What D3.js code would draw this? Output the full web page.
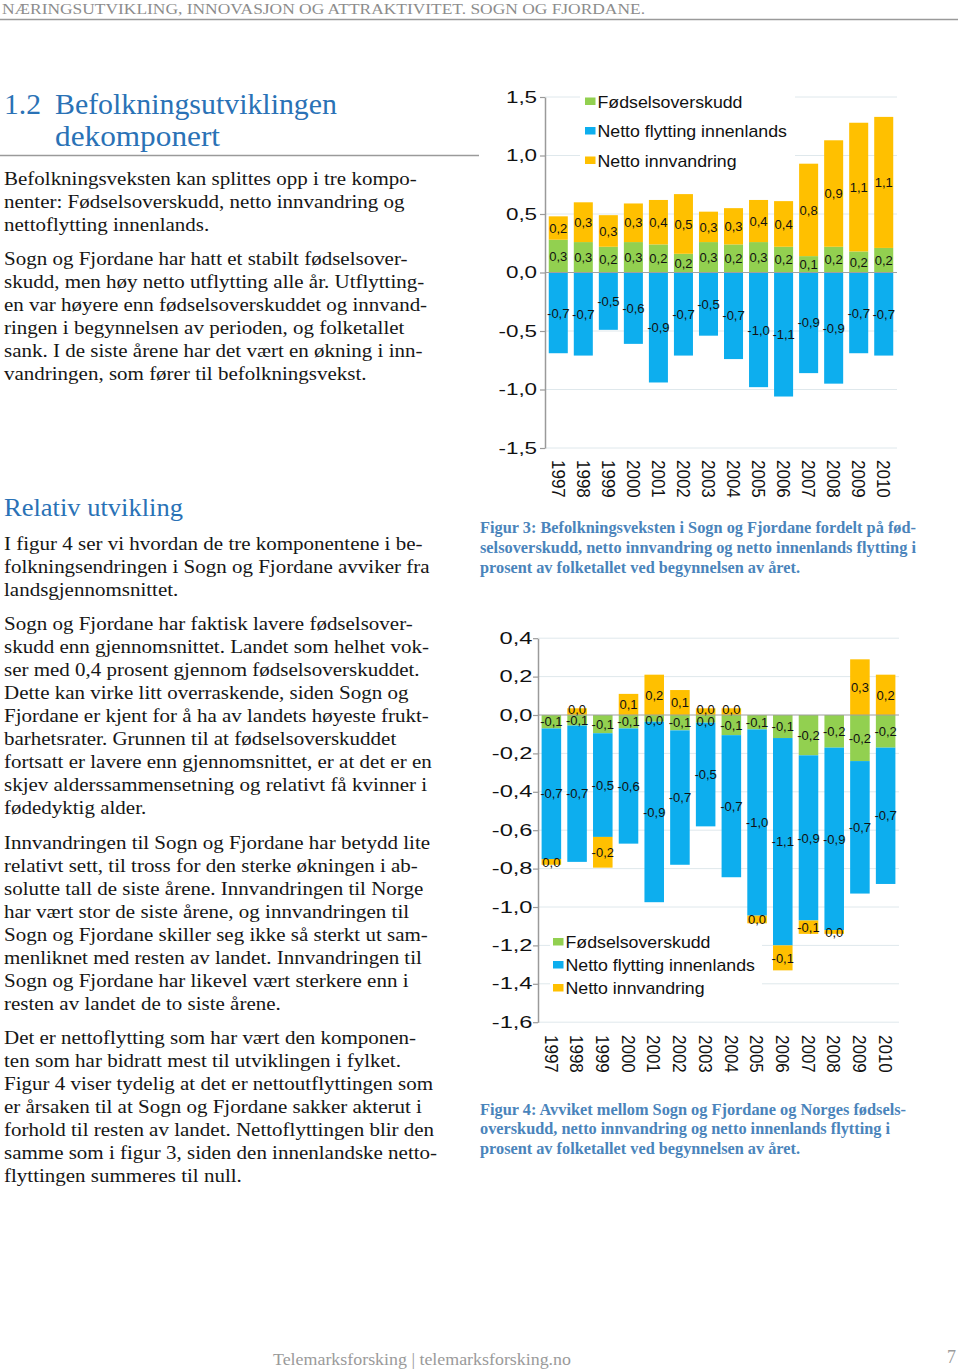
<!DOCTYPE html>
<html>
<head>
<meta charset="utf-8">
<script src="https://cdn.jsdelivr.net/npm/d3@7"></script>
<style>
  html, body { margin: 0; padding: 0; background: #fff; }
  svg { display: block; }
</style>
</head>
<body>
<svg id="page" width="960" height="1369"></svg>
<script>
// ---------------- DATA ----------------
const years = ["1997","1998","1999","2000","2001","2002","2003","2004","2005","2006","2007","2008","2009","2010"];
const seriesNames = ["Fødselsoverskudd", "Netto flytting innenlands", "Netto innvandring"];
const seriesColors = ["#92D050", "#0DAEEE", "#FFC000"];

// Figur 3 (prosent av folketallet)
const fig3Fodsel      = [0.28, 0.26, 0.22, 0.26, 0.24, 0.16, 0.26, 0.24, 0.26, 0.22, 0.14, 0.22, 0.18, 0.21];
const fig3Flytting    = [-0.69, -0.71, -0.49, -0.61, -0.94, -0.71, -0.54, -0.74, -0.98, -1.06, -0.86, -0.95, -0.69, -0.71];
const fig3Innvandring = [0.20, 0.34, 0.27, 0.33, 0.38, 0.51, 0.26, 0.31, 0.36, 0.39, 0.79, 0.91, 1.10, 1.12];
const fig3Ticks = [-1.5, -1.0, -0.5, 0.0, 0.5, 1.0, 1.5];

// Figur 4 (avvik fra landet)
const fig4Fodsel      = [-0.07, -0.055, -0.095, -0.07, -0.035, -0.08, -0.04, -0.105, -0.075, -0.12, -0.21, -0.17, -0.24, -0.17];
const fig4Flytting    = [-0.68, -0.71, -0.54, -0.60, -0.94, -0.70, -0.54, -0.74, -0.97, -1.08, -0.86, -0.95, -0.69, -0.71];
const fig4Innvandring = [-0.03, 0.035, -0.16, 0.11, 0.21, 0.13, 0.035, 0.035, -0.04, -0.13, -0.07, -0.02, 0.29, 0.21];
const fig4Ticks = [-1.6, -1.4, -1.2, -1.0, -0.8, -0.6, -0.4, -0.2, 0.0, 0.2, 0.4];

// ---------------- TEXT ----------------
const headerText = "NÆRINGSUTVIKLING, INNOVASJON OG ATTRAKTIVITET. SOGN OG FJORDANE.";
const para1 = ["Befolkningsveksten kan splittes opp i tre kompo-",
  "nenter: Fødselsoverskudd, netto innvandring og",
  "nettoflytting innenlands."];
const para2 = ["Sogn og Fjordane har hatt et stabilt fødselsover-",
  "skudd, men høy netto utflytting alle år. Utflytting-",
  "en var høyere enn fødselsoverskuddet og innvand-",
  "ringen i begynnelsen av perioden, og folketallet",
  "sank. I de siste årene har det vært en økning i inn-",
  "vandringen, som fører til befolkningsvekst."];
const para3 = ["I figur 4 ser vi hvordan de tre komponentene i be-",
  "folkningsendringen i Sogn og Fjordane avviker fra",
  "landsgjennomsnittet."];
const para4 = ["Sogn og Fjordane har faktisk lavere fødselsover-",
  "skudd enn gjennomsnittet. Landet som helhet vok-",
  "ser med 0,4 prosent gjennom fødselsoverskuddet.",
  "Dette kan virke litt overraskende, siden Sogn og",
  "Fjordane er kjent for å ha av landets høyeste frukt-",
  "barhetsrater. Grunnen til at fødselsoverskuddet",
  "fortsatt er lavere enn gjennomsnittet, er at det er en",
  "skjev alderssammensetning og relativt få kvinner i",
  "fødedyktig alder."];
const para5 = ["Innvandringen til Sogn og Fjordane har betydd lite",
  "relativt sett, til tross for den sterke økningen i ab-",
  "solutte tall de siste årene. Innvandringen til Norge",
  "har vært stor de siste årene, og innvandringen til",
  "Sogn og Fjordane skiller seg ikke så sterkt ut sam-",
  "menliknet med resten av landet. Innvandringen til",
  "Sogn og Fjordane har likevel vært sterkere enn i",
  "resten av landet de to siste årene."];
const para6 = ["Det er nettoflytting som har vært den komponen-",
  "ten som har bidratt mest til utviklingen i fylket.",
  "Figur 4 viser tydelig at det er nettoutflyttingen som",
  "er årsaken til at Sogn og Fjordane sakker akterut i",
  "forhold til resten av landet. Nettoflyttingen blir den",
  "samme som i figur 3, siden den innenlandske netto-",
  "flyttingen summeres til null."];
const caption3 = ["Figur 3: Befolkningsveksten i Sogn og Fjordane fordelt på fød-",
  "selsoverskudd, netto innvandring og netto innenlands flytting i",
  "prosent av folketallet ved begynnelsen av året."];
const caption4 = ["Figur 4: Avviket mellom Sogn og Fjordane og Norges fødsels-",
  "overskudd, netto innvandring og netto innenlands flytting i",
  "prosent av folketallet ved begynnelsen av året."];

// ---------------- SETUP ----------------
const svg = d3.select("#page");
svg.append("rect").attr("width", 960).attr("height", 1369).attr("fill", "#fff");

const locale = d3.formatLocale({decimal: ",", thousands: " ", grouping: [3], currency: ["", ""], minus: "-"});
const f1 = locale.format(".1f");
function lbl(v) { const r = Math.round(v * 10) / 10; return r === 0 ? "0,0" : f1(r); }

const SERIF = "'Liberation Serif', 'Times New Roman', serif";
const SANS = "'Liberation Sans', Arial, Helvetica, sans-serif";

// ---------------- PAGE TEXT ----------------
svg.append("text").attr("x", 2).attr("y", 13.5)
  .attr("font-family", SERIF).attr("font-size", 15.5).attr("fill", "#8c8c8c")
  .attr("textLength", 643).attr("lengthAdjust", "spacingAndGlyphs")
  .text(headerText);
svg.append("line").attr("x1", 0).attr("x2", 958).attr("y1", 19.5).attr("y2", 19.5)
  .attr("stroke", "#9a9a9a").attr("stroke-width", 1.5);

const titleBlue = "#2a72b6";
svg.append("text").attr("x", 4).attr("y", 114).attr("font-family", SERIF).attr("font-size", 30)
  .attr("fill", titleBlue).attr("textLength", 37).attr("lengthAdjust", "spacingAndGlyphs").text("1.2");
svg.append("text").attr("x", 55).attr("y", 114).attr("font-family", SERIF).attr("font-size", 30)
  .attr("fill", titleBlue).attr("textLength", 282).attr("lengthAdjust", "spacingAndGlyphs").text("Befolkningsutviklingen");
svg.append("text").attr("x", 55).attr("y", 146).attr("font-family", SERIF).attr("font-size", 30)
  .attr("fill", titleBlue).attr("textLength", 165).attr("lengthAdjust", "spacingAndGlyphs").text("dekomponert");
svg.append("line").attr("x1", 0).attr("x2", 479).attr("y1", 155.5).attr("y2", 155.5)
  .attr("stroke", "#9a9a9a").attr("stroke-width", 1.5);

svg.append("text").attr("x", 4).attr("y", 516).attr("font-family", SERIF).attr("font-size", 26)
  .attr("fill", titleBlue).attr("textLength", 179).attr("lengthAdjust", "spacingAndGlyphs").text("Relativ utvikling");

const body = svg.append("g").attr("font-family", SERIF).attr("font-size", 19.5).attr("fill", "#161616");
const blocks = [[para1, 185], [para2, 265], [para3, 550], [para4, 630], [para5, 849], [para6, 1044]];
blocks.forEach(([lines, y0]) => {
  lines.forEach((t, i) => body.append("text").attr("x", 0).attr("y", y0 + i * 23).text(t));
});
const refNode = body.select("text").node();
const natW = refNode.getComputedTextLength();
const sxBody = natW > 0 ? 413 / natW : 1;
body.attr("transform", `translate(4,0) scale(${sxBody},1)`);

const capColor = "#4a84bb";
function caption(lines, ys, widths) {
  lines.forEach((t, i) => {
    svg.append("text").attr("x", 480).attr("y", ys[i]).attr("font-family", SERIF).attr("font-size", 16.5)
      .attr("font-weight", "bold").attr("fill", capColor)
      .attr("textLength", widths[i]).attr("lengthAdjust", "spacingAndGlyphs").text(t);
  });
}
caption(caption3, [533, 553, 572.5], [436, 436, 320]);
caption(caption4, [1114.5, 1134, 1153.5], [426, 410, 320]);

svg.append("text").attr("x", 273).attr("y", 1365).attr("font-family", SERIF).attr("font-size", 16)
  .attr("fill", "#9a9a9a").attr("textLength", 298).attr("lengthAdjust", "spacingAndGlyphs")
  .text("Telemarksforsking  |  telemarksforsking.no");
svg.append("text").attr("x", 947).attr("y", 1363).attr("font-family", SERIF).attr("font-size", 18)
  .attr("fill", "#9a9a9a").text("7");

// ---------------- CHART ----------------
function drawChart(cfg) {
  const g = svg.append("g");
  const rows = years.map((yr, i) => ({year: yr, s0: cfg.a[i], s1: cfg.b[i], s2: cfg.c[i]}));
  const keys = ["s0", "s1", "s2"];
  const stack = d3.stack().keys(keys).offset(d3.stackOffsetDiverging)(rows);

  const x = d3.scaleBand().domain(years).range([cfg.x0, cfg.x1]).paddingInner(0.24).paddingOuter(cfg.po);
  const y = d3.scaleLinear().domain([cfg.ticks[0], cfg.ticks[cfg.ticks.length - 1]]).range([cfg.yBot, cfg.yTop]);

  // gridlines
  g.append("g").selectAll("line").data(cfg.ticks.filter(t => Math.abs(t) > 1e-9)).join("line")
    .attr("x1", cfg.x0).attr("x2", cfg.x1).attr("y1", d => y(d)).attr("y2", d => y(d))
    .attr("stroke", "#dfe8ec").attr("stroke-width", 1);

  // legend background + legend
  const lg = g.append("g");
  lg.append("rect").attr("x", cfg.legBox[0]).attr("y", cfg.legBox[1]).attr("width", cfg.legBox[2]).attr("height", cfg.legBox[3]).attr("fill", "#fff");
  seriesNames.forEach((n, i) => {
    const by = cfg.legY + i * cfg.legStep;
    lg.append("rect").attr("x", cfg.legX).attr("y", by - 10).attr("width", 10.5).attr("height", 7.5).attr("fill", seriesColors[i]);
    lg.append("text").attr("transform", `translate(${cfg.legX + 12.5},${by}) scale(1.11,1)`)
      .attr("font-family", SANS).attr("font-size", 16).attr("fill", "#111").text(n);
  });

  // bars
  const sg = g.append("g").selectAll("g").data(stack).join("g").attr("fill", (d, i) => seriesColors[i]);
  sg.selectAll("rect").data(d => d).join("rect")
    .attr("x", d => x(d.data.year)).attr("width", x.bandwidth())
    .attr("y", d => Math.min(y(d[0]), y(d[1])))
    .attr("height", d => Math.abs(y(d[0]) - y(d[1])));

  // zero axis line
  g.append("line").attr("x1", cfg.x0).attr("x2", cfg.x1).attr("y1", y(0)).attr("y2", y(0))
    .attr("stroke", "#a0a0a0").attr("stroke-width", 1.2);

  // data labels (tiny segments nudged slightly away from the zero line)
  const lgp = g.append("g").attr("font-family", SANS).attr("font-size", 13).attr("fill", "#111").attr("text-anchor", "middle");
  stack.forEach((ser, si) => {
    ser.forEach((d, i) => {
      const v = rows[i][keys[si]];
      const nudge = Math.abs(v) < 0.05 && (d[0] === 0 || d[1] === 0) ? (v > 0 ? -2 : 2) : 0;
      lgp.append("text").attr("x", x(d.data.year) + x.bandwidth() / 2)
        .attr("y", (y(d[0]) + y(d[1])) / 2 + nudge).attr("dy", "0.36em").text(lbl(v));
    });
  });

  // y axis
  const axisG = g.append("g").attr("transform", `translate(${cfg.x0},0)`)
    .call(d3.axisLeft(y).tickValues(cfg.ticks).tickFormat(f1).tickSize(5).tickSizeOuter(0).tickPadding(cfg.tickPad));
  axisG.select(".domain").attr("stroke", "#9a9a9a").attr("stroke-width", 1.5);
  axisG.selectAll(".tick line").attr("stroke", "#9a9a9a").attr("stroke-width", 1.2);
  axisG.selectAll(".tick text").attr("font-family", SANS).attr("font-size", cfg.tickFont).attr("fill", "#111")
    .attr("transform", `scale(${cfg.tickSx},1)`);

  // year labels
  g.append("g").selectAll("text").data(years).join("text")
    .attr("transform", d => `translate(${x(d) + x.bandwidth() / 2},${cfg.yearY}) scale(1.1,1) rotate(90)`)
    .attr("dy", "0.36em").attr("font-family", SANS).attr("font-size", 17).attr("fill", "#111").text(d => d);
}

drawChart({
  a: fig3Fodsel, b: fig3Flytting, c: fig3Innvandring, ticks: fig3Ticks,
  x0: 545, x1: 897, yTop: 97, yBot: 448, po: 0.15,
  legX: 585, legY: 107.5, legStep: 29.5, legBox: [580, 88, 215, 85],
  tickFont: 17, tickSx: 1.32, tickPad: 1, yearY: 460
});
drawChart({
  a: fig4Fodsel, b: fig4Flytting, c: fig4Innvandring, ticks: fig4Ticks,
  x0: 538, x1: 899, yTop: 638.2, yBot: 1022.2, po: 0.14,
  legX: 553, legY: 948, legStep: 23, legBox: [550, 928, 212, 72],
  tickFont: 16, tickSx: 1.48, tickPad: -1.3, yearY: 1035
});
</script>
</body>
</html>
